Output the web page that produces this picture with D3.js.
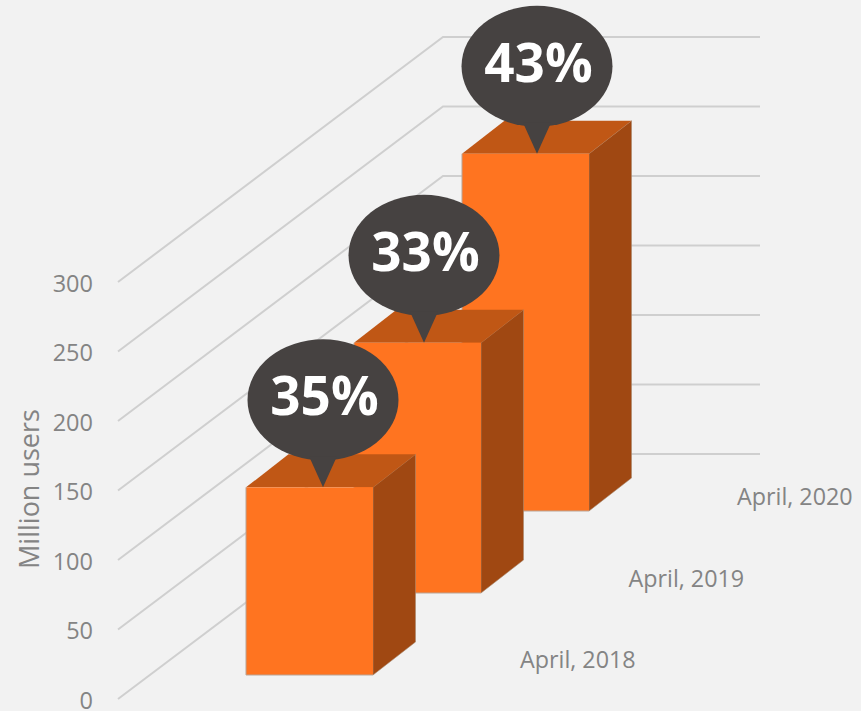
<!DOCTYPE html>
<html>
<head>
<meta charset="utf-8">
<script src="https://cdn.jsdelivr.net/npm/d3@7"></script>
<style>
  html, body { margin: 0; padding: 0; background: #f2f2f2; }
  svg { display: block; font-family: "Open Sans", sans-serif; }
</style>
</head>
<body>
<svg id="chart"></svg>
<script>
  // data
  const categories = ['April, 2018', 'April, 2019', 'April, 2020'];
  const users = [135, 180, 257];
  const shares = ['35%', '33%', '43%'];
  const yTicks = [0, 50, 100, 150, 200, 250, 300];

  const W = 861, H = 711;
  const svg = d3.select('#chart').attr('width', W).attr('height', H);
  svg.append('rect').attr('width', W).attr('height', H).attr('fill', '#f2f2f2');

  // Layout of the fake 3d box
  const BAR_W = 127, DEPTH_X = 42.5, DEPTH_Y = -33;
  const WALL_DX = 325, WALL_DY = -245, WALL_END = 760;
  const GRID_X = 118;

  const y = d3.scaleLinear().domain([0, 300]).range([699, 282]);
  const barX = d3.scalePoint().domain(categories).range([246, 462]);
  const floorY = d3.scalePoint().domain(categories).range([675, 511]);
  const labelX = d3.scalePoint().domain(categories).range([520, 737]);
  const labelY = d3.scalePoint().domain(categories).range([668, 505]);
  const tipNudge = [77, 70, 75];

  const poly = d3.line();

  // Gridlines: diagonal up the side wall, then flat along the back wall
  svg.append('g').selectAll('path')
    .data(yTicks)
    .join('path')
    .attr('d', d => poly([
      [GRID_X, y(d)],
      [GRID_X + WALL_DX, y(d) + WALL_DY],
      [WALL_END, y(d) + WALL_DY]
    ]))
    .attr('fill', 'none')
    .attr('stroke', '#cfcfcf')
    .attr('stroke-width', 2);

  // Y axis
  const yAxis = svg.append('g')
    .attr('transform', 'translate(93,0)')
    .call(d3.axisLeft(y).tickValues(yTicks).tickSize(0).tickPadding(0));
  yAxis.select('.domain').remove();
  yAxis.selectAll('text')
    .attr('font-family', '"Open Sans", sans-serif')
    .attr('font-size', 23.5)
    .attr('fill', '#848484')
    .attr('dy', null)
    .attr('y', 9);

  svg.append('text')
    .attr('transform', 'translate(39,489) rotate(-90)')
    .attr('text-anchor', 'middle')
    .attr('font-size', 27)
    .attr('fill', '#848484')
    .text('Million users');

  // Category labels
  svg.append('g').selectAll('text')
    .data(categories)
    .join('text')
    .attr('x', d => labelX(d))
    .attr('y', d => labelY(d))
    .attr('font-size', 23.3)
    .attr('fill', '#848484')
    .text(d => d);

  // Bars, back one first so the nearer ones overlap it
  const order = d3.range(categories.length).reverse();
  order.forEach(i => {
    const c = categories[i];
    const x0 = barX(c), x1 = x0 + BAR_W;
    const yb = floorY(c), yt = yb - (y(0) - y(users[i]));
    const g = svg.append('g');

    g.append('path')
      .attr('d', poly([[x1, yt], [x1 + DEPTH_X, yt + DEPTH_Y], [x1 + DEPTH_X, yb + DEPTH_Y], [x1, yb]]) + 'Z')
      .attr('fill', '#a04812')
      .attr('stroke', '#a9896f').attr('stroke-width', 0.6);
    g.append('path')
      .attr('d', poly([[x0, yt], [x0 + DEPTH_X, yt + DEPTH_Y], [x1 + DEPTH_X, yt + DEPTH_Y], [x1, yt]]) + 'Z')
      .attr('fill', '#c05715');
    g.append('rect')
      .attr('x', x0).attr('y', yt)
      .attr('width', BAR_W).attr('height', yb - yt)
      .attr('fill', '#ff7420');
    g.append('path')
      .attr('d', poly([[x0, yt], [x0, yb], [x1, yb]]))
      .attr('fill', 'none')
      .attr('stroke', '#b9a496').attr('stroke-width', 1);
  });

  // Speech bubbles on top of everything
  categories.forEach((c, i) => {
    const tipX = barX(c) + tipNudge[i];
    const tipY = floorY(c) - (y(0) - y(users[i]));
    const cy = tipY - 87.5;
    const g = svg.append('g');

    g.append('ellipse')
      .attr('cx', tipX).attr('cy', cy)
      .attr('rx', 75.5).attr('ry', 60.5)
      .attr('fill', '#464241');
    g.append('path')
      .attr('d', poly([[tipX - 14, tipY - 31], [tipX, tipY], [tipX + 14, tipY - 31]]) + 'Z')
      .attr('fill', '#464241');
    g.append('text')
      .attr('x', tipX + 1.5).attr('y', cy + 15.5)
      .attr('text-anchor', 'middle')
      .attr('font-size', 53)
      .attr('font-weight', 700)
      .attr('fill', '#fff')
      .text(shares[i]);
  });
</script>
</body>
</html>
